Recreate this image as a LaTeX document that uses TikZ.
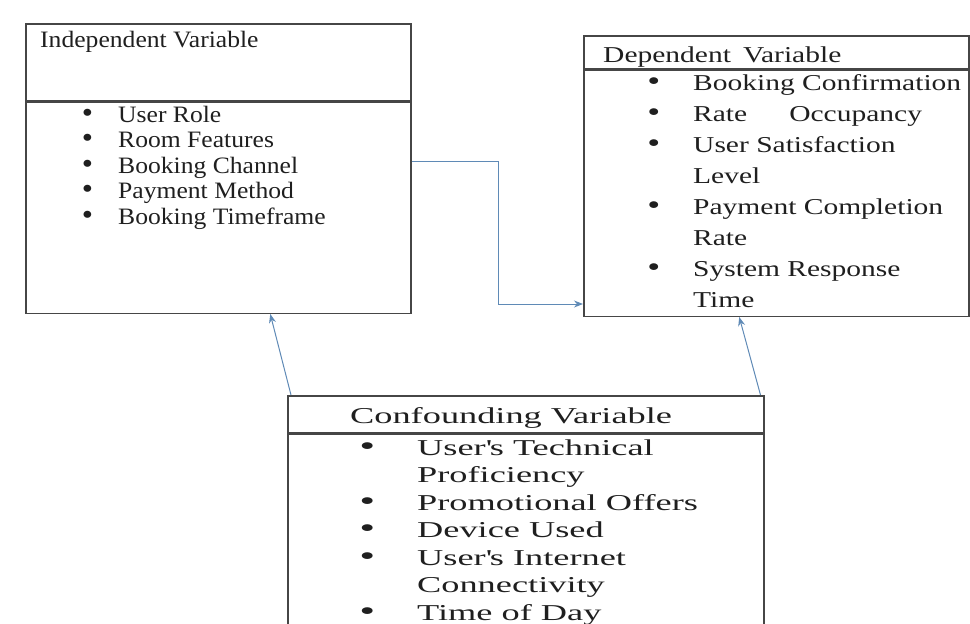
\documentclass[tikz,border=0pt]{standalone}
\usepackage{fontspec}
\setmainfont{Liberation Serif}
\newfontfamily\indfont[FakeStretch=1.09]{Liberation Serif}
\newfontfamily\depfont[FakeStretch=1.3]{Liberation Serif}
\newfontfamily\conffont[FakeStretch=1.6]{Liberation Serif}
\usetikzlibrary{positioning,arrows.meta}
\definecolor{boxline}{RGB}{70,70,70}
\definecolor{linkblue}{RGB}{95,138,182}
\newcommand{\blt}[1][25pt]{\llap{\scalebox{1.25}{\textbullet}\hspace{#1}}}
\begin{document}
\begin{tikzpicture}[x=1pt,y=-1pt,
  boxpart/.style={draw=boxline, line width=1.5pt, inner sep=0pt, anchor=north west},
  listtext/.style={anchor=base west, inner sep=0pt, align=left, text=black!88},
  link/.style={draw=linkblue, line width=1pt, -{Stealth[length=9pt,width=7pt]}}]
  \useasboundingbox (0,0) rectangle (970,624);

  % independent variable box
  \node[boxpart, minimum width=385pt, minimum height=77pt] (indhead) at (25,23) {};
  \node[boxpart, minimum width=385pt, minimum height=211pt, below=0pt of indhead] (indbody) {};

  % dependent variable box
  \node[boxpart, minimum width=385pt, minimum height=33pt] (dephead) at (583,35) {};
  \node[boxpart, minimum width=385pt, minimum height=246pt, below=0pt of dephead] (depbody) {};

  % confounding variable box
  \node[boxpart, minimum width=476pt, minimum height=37pt] (confhead) at (287,395) {};
  \node[boxpart, minimum width=476pt, minimum height=191pt, below=0pt of confhead] (confbody) {};

  % titles
  \node[listtext, font=\indfont\fontsize{23.5}{25.5}\selectfont] (indtitle) at (40,47) {Independent Variable};
  \node[listtext, font=\depfont\fontsize{22.7}{31}\selectfont] (deptitle) at (603,62) {Dependent\hspace{12pt}Variable};
  \node[listtext, font=\conffont\fontsize{22.7}{27.5}\selectfont] (conftitle) at (350,423) {Confounding Variable};

  % lists (base = last line)
  \node[listtext, font=\indfont\fontsize{23.5}{25.5}\selectfont] (indlist) at (118,224)
    {\blt User Role\\ \blt Room Features\\ \blt Booking Channel\\ \blt Payment Method\\ \blt Booking Timeframe};
  \node[listtext, font=\depfont\fontsize{22.7}{31}\selectfont] (deplist) at (693,307.5)
    {\blt[33pt]Booking Confirmation\\ \blt[33pt]Rate\hspace{42pt}Occupancy\\ \blt[33pt]User Satisfaction\\ Level\\
     \blt[33pt]Payment Completion\\ Rate\\ \blt[33pt]System Response\\ Time};
  \node[listtext, font=\conffont\fontsize{22.7}{27.5}\selectfont] (conflist) at (417,620)
    {\blt[42pt]User\textquotesingle s Technical\\ Proficiency\\ \blt[42pt]Promotional Offers\\ \blt[42pt]Device Used\\
     \blt[42pt]User\textquotesingle s Internet\\ Connectivity\\ \blt[42pt]Time of Day};

  % links
  \coordinate (bend) at (498,304);
  \draw[link] ([yshift=46pt]indbody.east) -| (bend) -- (bend -| depbody.west);
  \draw[link] ([xshift=4pt]confhead.north west) -- ([xshift=52pt]indbody.south);
  \draw[link] ([xshift=-4pt]confhead.north east) -- ([xshift=-37pt]depbody.south);
\end{tikzpicture}
\end{document}
